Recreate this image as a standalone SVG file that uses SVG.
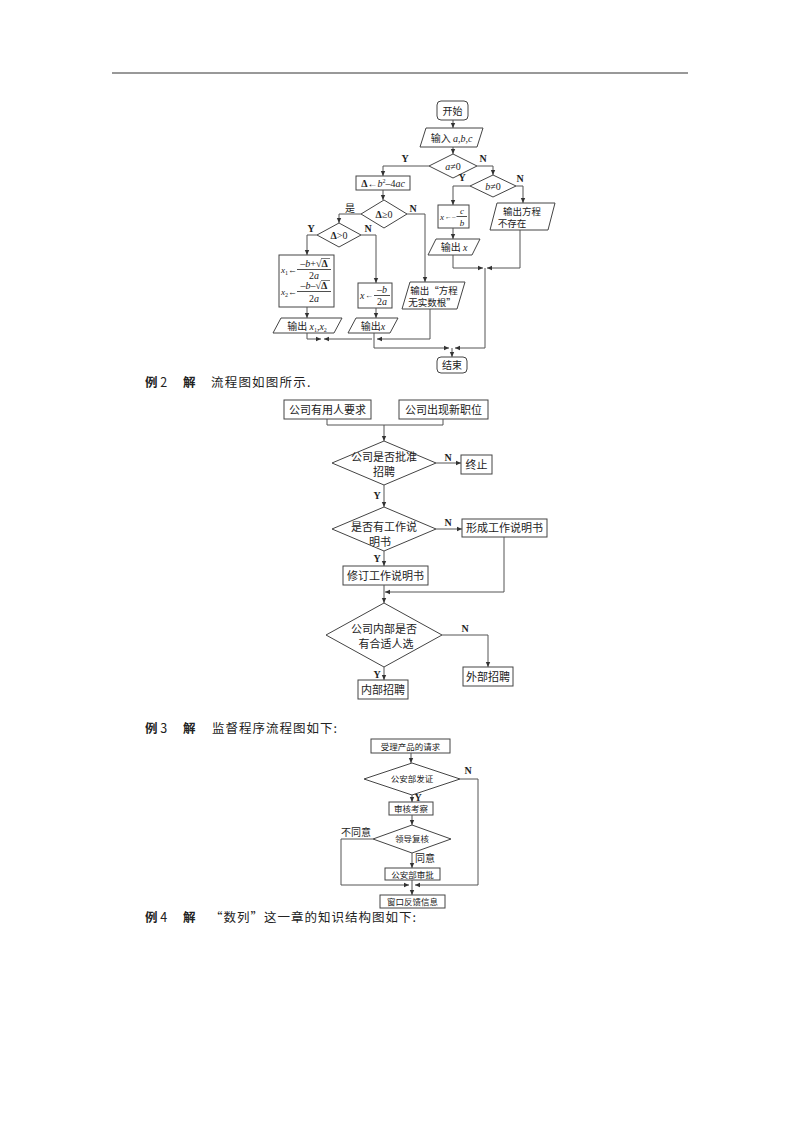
<svg xmlns="http://www.w3.org/2000/svg" width="800" height="1132" viewBox="0 0 800 1132">
<defs>
<marker id="ah" markerWidth="6" markerHeight="6" refX="5" refY="3" orient="auto" markerUnits="userSpaceOnUse">
<path d="M0,0.8 L5,3 L0,5.2 Z" fill="#333"/>
</marker>
<style>
.b{fill:#fff;stroke:#444;stroke-width:1}
.c{fill:none;stroke:#555;stroke-width:1;marker-end:url(#ah)}
.l{fill:none;stroke:#555;stroke-width:1}
.t{font-family:"Noto Sans CJK SC","Liberation Serif",serif;fill:#222;text-anchor:middle}
.m{font-family:"Liberation Serif",serif;fill:#222}
.i{font-style:italic}
.f1{font-size:10px}
.f2{font-size:11px}
.f3{font-size:8.5px}
.h{font-family:"Noto Sans CJK SC",sans-serif;font-size:12.5px;fill:#222}
.lb{font-family:"Liberation Serif",serif;font-weight:bold;font-size:10px;fill:#222;text-anchor:middle}
</style>
</defs>
<rect width="800" height="1132" fill="#fff"/>
<line x1="112" y1="73" x2="688" y2="73" stroke="#333" stroke-width="1"/>

<!-- Flowchart 1 -->
<g id="start"><rect class="b" x="437" y="101" width="31" height="19" rx="4"/><text class="t f1" x="452.5" y="114.5">开始</text></g>
<g id="input"><polygon class="b" points="426,128 483,128 477,147 420,147"/><text class="t f1" x="451.5" y="141.5">输入 <tspan class="m i">a,b,c</tspan></text></g>
<g id="d-a"><polygon class="b" points="453,154 477,166 453,178 429,166"/><text class="m f1" x="453" y="170" text-anchor="middle"><tspan class="i">a</tspan>≠0</text></g>
<g id="delta"><rect class="b" x="356" y="176" width="54" height="14"/><text class="m f1" x="383" y="187" text-anchor="middle"><tspan font-weight="bold">Δ</tspan>←<tspan class="i">b</tspan><tspan font-size="6" dy="-4">2</tspan><tspan dy="4">–4</tspan><tspan class="i">ac</tspan></text></g>
<g id="d-b"><polygon class="b" points="493,175 516,186 493,197 470,186"/><text class="m f1" x="493" y="190" text-anchor="middle"><tspan class="i">b</tspan>≠0</text></g>
<g id="xcb"><rect class="b" x="438" y="205" width="31" height="23"/><text class="m i" font-size="9" x="440" y="219.5">x</text><text class="m" font-size="7" x="445" y="219">←–</text><line x1="456.5" y1="216.5" x2="467" y2="216.5" stroke="#222" stroke-width="0.8"/><text class="m i" font-size="9" x="462" y="214" text-anchor="middle">c</text><text class="m i" font-size="9" x="462" y="225.5" text-anchor="middle">b</text></g>
<g id="outx"><polygon class="b" points="436,239 480,239 472,255 428,255"/><text class="t f1" x="454" y="251">输出 <tspan class="m i">x</tspan></text></g>
<g id="nosol"><polygon class="b" points="497,203 555,203 548,230 490,230"/><text class="t" font-size="9.5" x="522" y="215">输出方程</text><text class="t" font-size="9.5" x="512" y="227">不存在</text></g>
<g id="d-ge"><polygon class="b" points="384,200 407,214 384,228 361,214"/><text class="m f1" x="384" y="218" text-anchor="middle"><tspan font-weight="bold">Δ</tspan>≥0</text></g>
<g id="d-gt"><polygon class="b" points="339,223 361,235 339,247 317,235"/><text class="m f1" x="339" y="239" text-anchor="middle"><tspan font-weight="bold">Δ</tspan>&gt;0</text></g>
<g id="x12"><rect class="b" x="279" y="255" width="55" height="52"/>
<text class="m i" font-size="9" x="281" y="273">x<tspan font-size="6" dy="2" font-style="normal">1</tspan><tspan dy="-2" font-style="normal">←</tspan></text>
<line x1="297" y1="269.5" x2="331" y2="269.5" stroke="#222" stroke-width="0.8"/>
<text class="m f1" x="314" y="267" text-anchor="middle">–<tspan class="i">b</tspan>+√<tspan font-weight="bold">Δ</tspan></text>
<line x1="321" y1="258.5" x2="330" y2="258.5" stroke="#222" stroke-width="0.6"/>
<text class="m f1" x="314" y="279" text-anchor="middle">2<tspan class="i">a</tspan></text>
<text class="m i" font-size="9" x="281" y="295">x<tspan font-size="6" dy="2" font-style="normal">2</tspan><tspan dy="-2" font-style="normal">←</tspan></text>
<line x1="297" y1="291.5" x2="331" y2="291.5" stroke="#222" stroke-width="0.8"/>
<text class="m f1" x="314" y="289" text-anchor="middle">–<tspan class="i">b</tspan>–√<tspan font-weight="bold">Δ</tspan></text>
<line x1="321" y1="280.5" x2="330" y2="280.5" stroke="#222" stroke-width="0.6"/>
<text class="m f1" x="314" y="302" text-anchor="middle">2<tspan class="i">a</tspan></text></g>
<g id="xb2a"><rect class="b" x="358" y="283" width="34" height="25"/><text class="m f1 i" x="360" y="298.5">x</text><text class="m" font-size="8" x="365" y="298">←</text><line x1="374" y1="295.5" x2="390" y2="295.5" stroke="#222" stroke-width="0.8"/><text class="m f1" x="382" y="293" text-anchor="middle">–<tspan class="i">b</tspan></text><text class="m f1" x="382" y="305" text-anchor="middle">2<tspan class="i">a</tspan></text></g>
<g id="noreal"><polygon class="b" points="410,282 465,282 457,309 402,309"/><text class="t" font-size="9.5" x="434" y="294">输出“方程</text><text class="t" font-size="9.5" x="432" y="306">无实数根”</text></g>
<g id="outx12"><polygon class="b" points="281,318 342,318 334,333 273,333"/><text class="t f1" x="307" y="329.5">输出 <tspan class="m i">x</tspan><tspan class="m" font-size="6" dy="2">1</tspan><tspan class="m" dy="-2">,</tspan><tspan class="m i">x</tspan><tspan class="m" font-size="6" dy="2">2</tspan></text></g>
<g id="outx2"><polygon class="b" points="356,318 398,318 390,333 348,333"/><text class="t f1" x="373" y="329.5">输出<tspan class="m i">x</tspan></text></g>
<g id="end"><rect class="b" x="437" y="357" width="30" height="16" rx="4"/><text class="t f1" x="452" y="369">结束</text></g>

<!-- Flowchart 2 -->
<g id="req"><rect class="b" x="284" y="400" width="87" height="19"/><text class="t f2" x="327.5" y="413.5">公司有用人要求</text></g>
<g id="newpos"><rect class="b" x="399" y="400" width="89" height="19"/><text class="t f2" x="443.5" y="413.5">公司出现新职位</text></g>
<g id="approve"><polygon class="b" points="384,441 436,463 384,485 332,463"/><text class="t f2" x="384" y="461">公司是否批准</text><text class="t f2" x="384" y="476">招聘</text></g>
<g id="stop"><rect class="b" x="461" y="455" width="31" height="19"/><text class="t f2" x="476.5" y="468.5">终止</text></g>
<g id="hasdoc"><polygon class="b" points="384,507 436,529 384,551 332,529"/><text class="t f2" x="384" y="531">是否有工作说</text><text class="t f2" x="380" y="546">明书</text></g>
<g id="makedoc"><rect class="b" x="462" y="519" width="85" height="18"/><text class="t f2" x="504.5" y="532">形成工作说明书</text></g>
<g id="revise"><rect class="b" x="343" y="566" width="85" height="19"/><text class="t f2" x="385.5" y="579.5">修订工作说明书</text></g>
<g id="internal"><polygon class="b" points="384,603 442,635 384,667 326,635"/><text class="t f2" x="384" y="633">公司内部是否</text><text class="t f2" x="386" y="648">有合适人选</text></g>
<g id="ext"><rect class="b" x="463" y="667" width="50" height="19"/><text class="t f2" x="488" y="680.5">外部招聘</text></g>
<g id="int"><rect class="b" x="358" y="680" width="50" height="19"/><text class="t f2" x="383" y="693.5">内部招聘</text></g>

<!-- Flowchart 3 -->
<g id="accept"><rect class="b" x="371" y="739" width="79" height="14"/><text class="t f3" x="410.5" y="749.5">受理产品的请求</text></g>
<g id="issue"><polygon class="b" points="412,763 460,779 412,795 364,779"/><text class="t f3" x="412" y="782">公安部发证</text></g>
<g id="review"><rect class="b" x="389" y="802" width="44" height="13"/><text class="t f3" x="411" y="812">审核考察</text></g>
<g id="leader"><polygon class="b" points="412,825 451,839 412,853 373,839"/><text class="t f3" x="412" y="842">领导复核</text></g>
<g id="approve2"><rect class="b" x="385" y="868" width="55" height="12"/><text class="t f3" x="412.5" y="877.5">公安部审批</text></g>
<g id="feedback"><rect class="b" x="380" y="895" width="65" height="13"/><text class="t f3" x="412.5" y="905">窗口反馈信息</text></g>

<g id="connectors">
<path class="c" d="M453,120 V128"/>
<path class="c" d="M453,147 V154"/>
<path class="c" d="M429,166 H383 V176"/>
<path class="c" d="M477,166 H493 V175"/>
<path class="c" d="M470,186 H453 V205"/>
<path class="c" d="M516,186 H523 V203"/>
<path class="c" d="M453,228 V239"/>
<path class="c" d="M453,255 V268 H483"/>
<path class="c" d="M520,230 V268 H487"/>
<path class="c" d="M485,268 V348 H455"/>
<path class="c" d="M383,190 V200"/>
<path class="c" d="M361,214 H339 V223"/>
<path class="c" d="M407,214 H425 V282"/>
<path class="c" d="M317,235 H307 V255"/>
<path class="c" d="M361,235 H376 V283"/>
<path class="c" d="M307,307 V318"/>
<path class="c" d="M376,308 V318"/>
<path class="c" d="M307,333 V339 H321"/>
<path class="c" d="M372,339 H324"/>
<path class="c" d="M430,309 V339 H377"/>
<path class="c" d="M374,333 V348 H449"/>
<path class="c" d="M452,348 V357"/>
<text class="lb" x="405" y="162">Y</text>
<text class="lb" x="483" y="162">N</text>
<text class="lb" x="462" y="181">Y</text>
<text class="lb" x="520" y="182">N</text>
<text class="t f1" x="350" y="212">是</text>
<text class="lb" x="413" y="212">N</text>
<text class="lb" x="311" y="232">Y</text>
<text class="lb" x="368" y="232">N</text>

<path class="l" d="M327,419 V425 H443 V419"/>
<path class="c" d="M384,425 V441"/>
<path class="c" d="M436,463 H461"/>
<path class="c" d="M384,485 V507"/>
<path class="c" d="M436,529 H462"/>
<path class="c" d="M384,551 V566"/>
<path class="c" d="M504,537 V592 H385"/>
<path class="c" d="M384,585 V603"/>
<path class="c" d="M442,635 H488 V667"/>
<path class="c" d="M384,667 V680"/>
<text class="lb" x="448" y="461">N</text>
<text class="lb" x="377" y="499">Y</text>
<text class="lb" x="448" y="526">N</text>
<text class="lb" x="377" y="562">Y</text>
<text class="lb" x="465" y="632">N</text>
<text class="lb" x="377" y="678">Y</text>

<path class="c" d="M411,753 V763"/>
<path class="c" d="M460,779 H478 V885 H415"/>
<path class="c" d="M412,795 V802"/>
<path class="c" d="M412,815 V825"/>
<path class="c" d="M373,839 H341 V885 H409"/>
<path class="c" d="M412,853 V868"/>
<path class="c" d="M412,880 V895"/>
<text class="lb" x="468" y="774">N</text>
<text class="lb" x="418" y="801">Y</text>
<text class="t" font-size="10" x="356" y="836">不同意</text>
<text class="t" font-size="10" x="425" y="862">同意</text>
</g>

<text class="h" x="145" y="387"><tspan font-weight="bold">例</tspan> 2<tspan x="183" font-weight="bold">解</tspan><tspan x="211" letter-spacing="1.2">流程图如图所示.</tspan></text>
<text class="h" x="145" y="733"><tspan font-weight="bold">例</tspan> 3<tspan x="183" font-weight="bold">解</tspan><tspan x="212" letter-spacing="1">监督程序流程图如下:</tspan></text>
<text class="h" x="145" y="922"><tspan font-weight="bold">例</tspan> 4<tspan x="183" font-weight="bold">解</tspan><tspan x="210" letter-spacing="1">“数列”这一章的知识结构图如下:</tspan></text>
</svg>
